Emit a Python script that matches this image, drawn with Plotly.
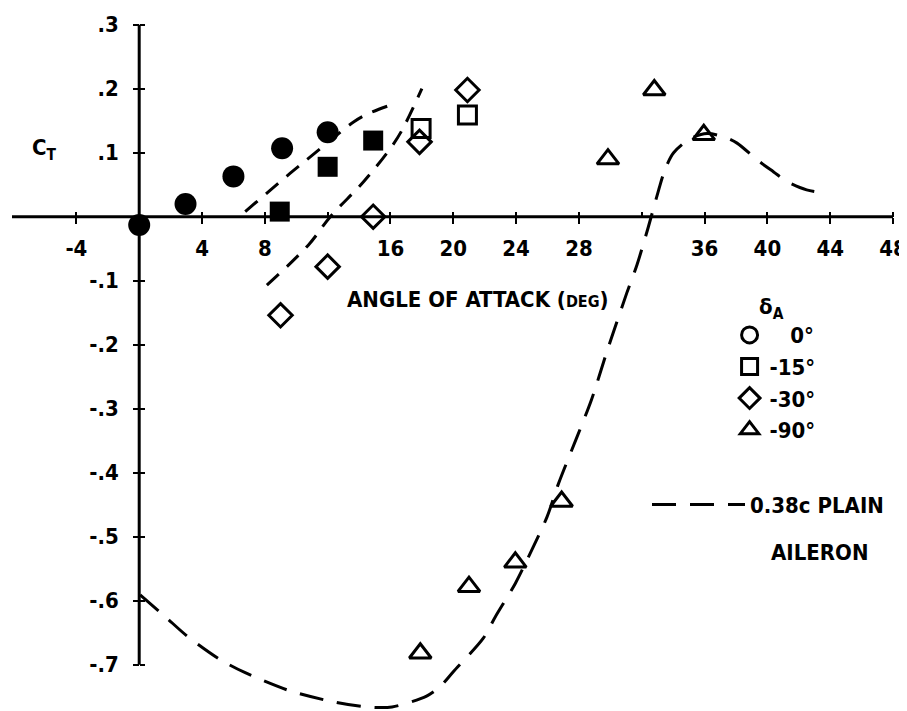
import plotly.graph_objects as go

# ---------------- data ----------------
alpha_0 = [0.0, 2.95, 6.0, 9.1, 12.0]
ct_0 = [-0.013, 0.020, 0.063, 0.107, 0.132]

alpha_15_solid = [8.95, 12.0, 14.9]
ct_15_solid = [0.008, 0.078, 0.119]
alpha_15_open = [17.95, 20.9]
ct_15_open = [0.138, 0.159]

alpha_30 = [9.0, 12.0, 14.9, 17.85, 20.9]
ct_30 = [-0.154, -0.078, 0.0, 0.117, 0.198]

alpha_90 = [17.9, 21.0, 23.95, 26.9, 29.85, 32.8, 35.95]
ct_90 = [-0.682, -0.578, -0.540, -0.445, 0.090, 0.198, 0.128]

curve_a_x = [6.75, 9.62, 11.32, 12.6, 13.65, 14.5, 16.3]
curve_a_y = [0.008, 0.068, 0.102, 0.128, 0.148, 0.160, 0.177]

curve_b_x = [8.13, 10.78, 12.17, 14.3, 16.0, 16.73, 18.0]
curve_b_y = [-0.107, -0.044, 0.0, 0.055, 0.107, 0.135, 0.200]

curve_c_x = [0.06, 1.66, 3.04, 5.16, 6.75, 9.62, 12.38, 14.5, 16.1, 18.3, 19.17,
             20.0, 21.9, 22.68, 23.95, 24.7, 25.97, 26.7, 27.88, 28.8, 29.78,
             30.41, 31.05, 31.7, 32.42, 33.08, 33.5, 34.03, 35.1, 36.16, 37.2,
             38.07, 39.34, 40.4, 41.25, 42.5, 43.7]
curve_c_y = [-0.591, -0.625, -0.655, -0.692, -0.7125, -0.741, -0.758, -0.766,
             -0.766, -0.749, -0.734, -0.711, -0.659, -0.625, -0.573, -0.536,
             -0.469, -0.417, -0.344, -0.286, -0.211, -0.165, -0.119, -0.075,
             -0.016, 0.042, 0.075, 0.100, 0.122, 0.130, 0.125, 0.115, 0.089,
             0.070, 0.055, 0.042, 0.037]

x_tick_vals = [-4, 4, 8, 16, 20, 24, 28, 36, 40, 44, 48]
x_tick_text = ["-4", "4", "8", "16", "20", "24", "28", "36", "40", "44", "48"]
x_tick_marks = [-4, 4, 8, 12, 16, 20, 24, 28, 32, 36, 40, 44, 48]
y_tick_vals = [0.3, 0.2, 0.1, -0.1, -0.2, -0.3, -0.4, -0.5, -0.6, -0.7]
y_tick_text = [".3", ".2", ".1", "-.1", "-.2", "-.3", "-.4", "-.5", "-.6", "-.7"]

legend_labels = ["\u00a0\u00a0\u00a00°", "-15°", "-30°", "-90°"]
line_label = "0.38c PLAIN"
line_label_2 = "AILERON"

x_range = [-8.1, 48.0]
y_range = [-0.7723, 0.3105]

FONT = "DejaVu Sans Condensed, Liberation Sans Narrow, DejaVu Sans, sans-serif"
INK = "black"

fig = go.Figure()

# dashed curves
dash_short = "16px,11px"
dash_long = "24px,14px"
fig.add_trace(go.Scatter(x=curve_a_x, y=curve_a_y, mode="lines", line_shape="spline",
                         line=dict(color=INK, width=3, dash=dash_short), showlegend=False))
fig.add_trace(go.Scatter(x=curve_b_x, y=curve_b_y, mode="lines", line_shape="spline",
                         line=dict(color=INK, width=3, dash=dash_short), showlegend=False))
fig.add_trace(go.Scatter(x=curve_c_x, y=curve_c_y, mode="lines", line_shape="spline",
                         line=dict(color=INK, width=3, dash=dash_long, smoothing=0.8),
                         name=line_label, legend="legend2"))

# markers
fig.add_trace(go.Scatter(x=alpha_0, y=ct_0, mode="markers", cliponaxis=False,
                         marker=dict(symbol="circle", size=22, color=INK),
                         showlegend=False))
fig.add_trace(go.Scatter(x=[None], y=[None], mode="markers", name=legend_labels[0],
                         marker=dict(symbol="circle-open", size=16, color=INK,
                                     line=dict(width=3, color=INK))))
fig.add_trace(go.Scatter(x=alpha_15_solid, y=ct_15_solid, mode="markers",
                         marker=dict(symbol="square", size=20, color=INK),
                         showlegend=False))
fig.add_trace(go.Scatter(x=alpha_15_open, y=ct_15_open, mode="markers", name=legend_labels[1],
                         marker=dict(symbol="square-open", size=18, color=INK,
                                     line=dict(width=3, color=INK))))
fig.add_trace(go.Scatter(x=alpha_30, y=ct_30, mode="markers", name=legend_labels[2],
                         marker=dict(symbol="diamond-open", size=18, color=INK,
                                     line=dict(width=3, color=INK))))
fig.add_trace(go.Scatter(x=alpha_90, y=ct_90, mode="markers", name=legend_labels[3],
                         marker=dict(symbol="triangle-up-open", size=19, color=INK,
                                     line=dict(width=3, color=INK))))

# axis lines drawn through the origin
fig.add_shape(type="line", x0=x_range[0], x1=x_tick_marks[-1], y0=0, y1=0,
              line=dict(color=INK, width=3), layer="below")
fig.add_shape(type="line", x0=0, x1=0, y0=y_tick_vals[-1], y1=y_tick_vals[0],
              line=dict(color=INK, width=3), layer="below")

x_pos = (0 - y_range[0]) / (y_range[1] - y_range[0])
y_pos = (0 - x_range[0]) / (x_range[1] - x_range[0])

tick_font = dict(family=FONT, size=22, color=INK, weight="bold")

fig.update_layout(
    width=899, height=703,
    margin=dict(l=4, r=14, t=10, b=0, autoexpand=False),
    paper_bgcolor="white", plot_bgcolor="white",
    font=dict(family=FONT, size=22, color=INK, weight="bold"),
    xaxis=dict(range=x_range, anchor="free", position=x_pos, showgrid=False,
               zeroline=False, showline=False, tickmode="array", automargin=False,
               tickvals=x_tick_vals, ticktext=x_tick_text, ticks="outside",
               ticklen=6, tickwidth=2, tickcolor=INK, ticklabelstandoff=6,
               tickfont=tick_font,
               minor=dict(tickmode="array", tickvals=x_tick_marks, ticks="inside",
                          ticklen=5, tickwidth=2, tickcolor=INK, showgrid=False)),
    yaxis=dict(range=y_range, anchor="free", position=y_pos, showgrid=False,
               zeroline=False, showline=False, tickmode="array", automargin=False,
               tickvals=y_tick_vals, ticktext=y_tick_text, ticks="outside",
               ticklen=6, tickwidth=2, tickcolor=INK, ticklabelstandoff=10,
               tickfont=tick_font,
               minor=dict(tickmode="array", tickvals=y_tick_vals, ticks="inside",
                          ticklen=5, tickwidth=2, tickcolor=INK, showgrid=False)),
    legend=dict(x=0.8145, y=0.614, xanchor="left", yanchor="top",
                bgcolor="rgba(0,0,0,0)", borderwidth=0,
                title=dict(text="\u00a0\u00a0\u00a0\u00a0δ<sub>A</sub>",
                           font=dict(family=FONT, size=22, color=INK)),
                font=dict(family=FONT, size=22, color=INK, weight="bold"),
                itemsizing="trace"),
    legend2=dict(x=0.7208, y=0.328, xanchor="left", yanchor="top",
                 bgcolor="rgba(0,0,0,0)", borderwidth=0, itemwidth=93,
                 font=dict(family=FONT, size=22, color=INK, weight="bold")),
    annotations=[
        dict(x=-6.0, y=0.105, xref="x", yref="y", showarrow=False,
             text="C<sub>T</sub>", font=dict(family=FONT, size=22, color=INK, weight="bold")),
        dict(x=21.6, y=-0.13, xref="x", yref="y", showarrow=False,
             text="ANGLE OF ATTACK (<span style='font-size:16px'>DEG</span>)",
             font=dict(family=FONT, size=22, color=INK, weight="bold")),
        dict(x=43.3, y=-0.524, xref="x", yref="y", showarrow=False,
             text=line_label_2,
             font=dict(family=FONT, size=22, color=INK, weight="bold")),
    ],
)

fig.write_html("out.html")
